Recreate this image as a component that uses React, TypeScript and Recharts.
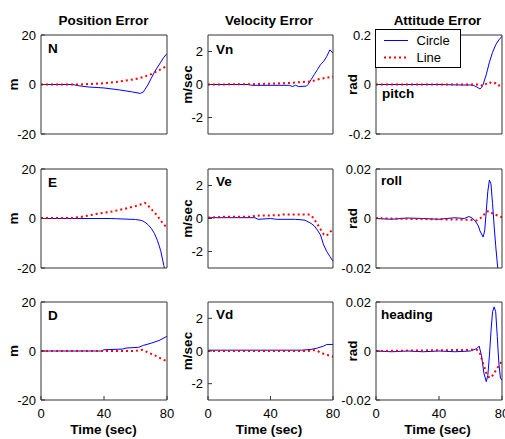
import React from 'react';
import { LineChart, Line, XAxis, YAxis } from 'recharts';

type P = [number, number];

// ---- tick labels / text ----
const timeTicks = [0, 40, 80];
const posTicks = [-20, 0, 20];
const velTicks = [-2, 0, 2];
const pitchTicks = [-0.2, 0, 0.2];
const angTicks = [-0.02, 0, 0.02];
const colTitles = ['Position Error', 'Velocity Error', 'Attitude Error'];
const unitLabels = ['m', 'm/sec', 'rad'];
const panelNames = [
  ['N', 'Vn', 'pitch'],
  ['E', 'Ve', 'roll'],
  ['D', 'Vd', 'heading'],
];
const seriesNames = ['Circle', 'Line'];
const xLabel = 'Time (sec)';

// ---- series values [time, value] ----
const nCircle: P[] = [[0, 0], [20, 0], [24, -0.5], [30, -1], [40, -1.4], [50, -2.2], [58, -3], [63, -3.6], [65, -3], [66, -2], [68, 0], [70, 2.5], [72, 5], [74, 7], [76, 9], [78, 11], [80, 12.5]];
const nLine: P[] = [[0, 0], [25, 0], [30, 0.2], [40, 0.5], [50, 1.2], [60, 2.2], [65, 3], [70, 4.2], [75, 5.8], [80, 7.5]];
const vnCircle: P[] = [[0, 0], [26, 0], [28, -0.05], [52, -0.05], [54, -0.12], [56, -0.05], [58, -0.12], [63, -0.1], [64, 0], [66, 0.3], [68, 0.6], [70, 0.9], [72, 1.2], [74, 1.4], [76, 1.7], [78, 2.1], [80, 1.9]];
const vnLine: P[] = [[0, 0], [30, 0.02], [40, 0.05], [50, 0.08], [60, 0.15], [66, 0.18], [70, 0.3], [74, 0.38], [78, 0.45], [80, 0.48]];
const pitchCircle: P[] = [[0, 0], [40, 0], [55, -0.002], [60, -0.002], [62, -0.004], [64, -0.01], [66, -0.018], [67, -0.012], [68, 0], [70, 0.04], [72, 0.09], [74, 0.13], [76, 0.16], [78, 0.18], [80, 0.195]];
const pitchLine: P[] = [[0, 0], [66, 0], [68, -0.006], [70, 0.003], [72, 0.01], [74, 0.003], [76, 0.006], [78, -0.004], [80, -0.002]];

const eCircle: P[] = [[0, 0], [44, 0], [48, -0.1], [60, -0.4], [64, -0.8], [66, -1.5], [68, -2.5], [70, -4], [72, -6], [74, -9], [76, -13], [78, -19], [80, -26]];
const eLine: P[] = [[0, 0.2], [20, 0.2], [25, 0.6], [30, 1.2], [35, 1.8], [40, 2.3], [45, 2.8], [50, 3.5], [55, 4.2], [60, 5], [64, 5.8], [66, 6.3], [68, 5.2], [70, 3.8], [72, 2.5], [74, 1], [76, -0.8], [78, -2.5], [80, -3.5]];
const veCircle: P[] = [[0, 0.05], [30, 0.05], [32, -0.05], [40, 0], [44, -0.05], [56, -0.05], [62, -0.1], [64, -0.2], [66, -0.3], [68, -0.45], [70, -0.7], [72, -1.0], [74, -1.6], [76, -2.0], [78, -2.3], [80, -2.6]];
const veLine: P[] = [[0, 0.05], [10, 0.1], [28, 0.1], [30, 0.17], [46, 0.2], [48, 0.25], [64, 0.25], [66, 0.2], [68, -0.05], [70, -0.35], [72, -0.65], [74, -0.95], [76, -1.05], [78, -0.8], [80, -0.7]];
const rollCircle: P[] = [[0, 0], [10, -0.0003], [20, 0.0002], [30, 0], [40, -0.0003], [50, 0.0003], [56, 0], [59, 0.0008], [61, 0.0002], [63, -0.001], [65, -0.003], [66, -0.005], [68, -0.0075], [69, -0.005], [70, 0.003], [71, 0.011], [72, 0.0155], [73, 0.014], [74, 0.006], [75, -0.003], [76, -0.011], [77, -0.018], [78, -0.024], [80, -0.032]];
const rollLine: P[] = [[0, 0], [2, 0.0005], [4, 0], [60, -0.0005], [64, -0.0008], [66, 0], [68, 0.001], [70, 0.0028], [72, 0.003], [74, 0.002], [76, 0.0015], [78, 0.001], [80, 0.0005]];

const dCircle: P[] = [[0, 0], [38, 0], [40, 0.5], [52, 0.8], [54, 1.2], [62, 1.5], [65, 2.3], [70, 3.2], [75, 4.3], [80, 6]];
const dLine: P[] = [[0, 0], [60, 0], [62, 0.3], [64, 0.5], [66, 0], [68, -0.6], [70, -1.2], [72, -1.7], [74, -2.3], [76, -3], [78, -3.6], [80, -4.2]];
const vdCircle: P[] = [[0, 0.05], [60, 0.05], [66, 0.1], [70, 0.18], [74, 0.3], [76, 0.4], [80, 0.4]];
const vdLine: P[] = [[0, 0], [64, 0], [68, 0.05], [70, 0], [72, -0.1], [74, -0.17], [77, -0.26], [80, -0.35]];
const headingCircle: P[] = [[0, 0], [10, -0.0003], [20, 0], [30, -0.0003], [40, 0], [50, -0.0003], [60, 0], [64, 0.001], [65.5, 0.002], [67, -0.002], [68.5, -0.009], [70, -0.0125], [71, -0.01], [72, -0.002], [73, 0.008], [74, 0.016], [75, 0.018], [76, 0.016], [77, 0.006], [78, -0.005], [79, -0.011], [80, -0.012]];
const headingLine: P[] = [[0, 0], [64, 0.0005], [66, -0.001], [68, -0.005], [70, -0.009], [72, -0.011], [74, -0.01], [76, -0.008], [78, -0.006], [80, -0.004]];

// ---- layout ----
const FONT = '"Liberation Sans", Arial, Helvetica, sans-serif';
const AX = '#333';
const BLUE = '#0000ff';
const RED = '#ff0000';
const COLS = [{ L: 41, W: 126 }, { L: 208, W: 125 }, { L: 376, W: 126 }];
const ROWS = [{ T: 35, H: 99 }, { T: 169, H: 99 }, { T: 302, H: 98 }];
const colCenters = [103.5, 269, 437.5];
const unitX = [13.5, 187.5, 352];
const nameOffsets = [
  [{ dx: 7, dy: 18 }, { dx: 8, dy: 19 }, { dx: 6, dy: 63 }],
  [{ dx: 7, dy: 17.5 }, { dx: 8, dy: 16.5 }, { dx: 5, dy: 15.5 }],
  [{ dx: 7, dy: 18 }, { dx: 8, dy: 16.5 }, { dx: 5, dy: 17 }],
];

const toRows = (a: P[]) => a.map(([t, v]) => ({ t, v }));

const grid = [
  [
    { circle: nCircle, line: nLine, domain: [-20, 20], ticks: posTicks },
    { circle: vnCircle, line: vnLine, domain: [-3, 3], ticks: velTicks },
    { circle: pitchCircle, line: pitchLine, domain: [-0.2, 0.2], ticks: pitchTicks },
  ],
  [
    { circle: eCircle, line: eLine, domain: [-20, 20], ticks: posTicks },
    { circle: veCircle, line: veLine, domain: [-3, 3], ticks: velTicks },
    { circle: rollCircle, line: rollLine, domain: [-0.02, 0.02], ticks: angTicks },
  ],
  [
    { circle: dCircle, line: dLine, domain: [-20, 20], ticks: posTicks },
    { circle: vdCircle, line: vdLine, domain: [-3, 3], ticks: velTicks },
    { circle: headingCircle, line: headingLine, domain: [-0.02, 0.02], ticks: angTicks },
  ],
];

const tickStyle = { fontSize: 13, fill: '#000', fontFamily: FONT };

function Panel({ L, T, W, H, bottom, circle, line, domain, ticks }: any) {
  const bottomH = bottom ? 40 : 8;
  return (
    <div style={{ position: 'absolute', left: L - 45, top: T - 12 }}>
      <LineChart width={45 + W + 12} height={12 + H + bottomH} margin={{ top: 11, right: 11, bottom: 0, left: 0 }}>
        <XAxis xAxisId="b" dataKey="t" type="number" domain={[0, 80]} ticks={timeTicks} interval={0}
          height={bottomH} tickSize={-4} tickMargin={13} tick={bottom ? tickStyle : false} stroke={AX} allowDataOverflow />
        <XAxis xAxisId="t" dataKey="t" orientation="top" type="number" domain={[0, 80]} ticks={timeTicks} interval={0}
          height={1} tickSize={-4} tick={false} stroke={AX} allowDataOverflow />
        <YAxis yAxisId="l" type="number" domain={domain} ticks={ticks} interval={0} width={45}
          tickSize={-4} tickMargin={9} tick={tickStyle} stroke={AX} allowDataOverflow />
        <YAxis yAxisId="r" orientation="right" type="number" domain={domain} ticks={ticks} interval={0} width={1}
          tickSize={-4} tick={false} stroke={AX} allowDataOverflow />
        <Line xAxisId="b" yAxisId="l" data={toRows(circle)} dataKey="v" type="linear" stroke={BLUE} strokeWidth={1}
          dot={false} isAnimationActive={false} />
        <Line xAxisId="b" yAxisId="l" data={toRows(line)} dataKey="v" type="linear" stroke={RED} strokeWidth={2}
          strokeDasharray="2 3" dot={false} isAnimationActive={false} />
      </LineChart>
    </div>
  );
}

export default function App() {
  const bold = { fontFamily: FONT, fontWeight: 700, fontSize: 13.5, fill: '#000' } as const;
  return (
    <div style={{ position: 'absolute', left: 0, top: 0, width: 505, height: 439, background: '#fff', overflow: 'hidden' }}>
      {grid.map((row, r) =>
        row.map((cell, c) => (
          <Panel key={`${r}-${c}`} L={COLS[c].L} W={COLS[c].W} T={ROWS[r].T} H={ROWS[r].H} bottom={r === 2} {...cell} />
        ))
      )}
      <svg width={505} height={439} style={{ position: 'absolute', left: 0, top: 0, pointerEvents: 'none' }}>
        {colTitles.map((t, c) => (
          <text key={t} x={colCenters[c]} y={25} textAnchor="middle" style={bold}>{t}</text>
        ))}
        {colCenters.map((cx, c) => (
          <text key={`x${c}`} x={cx} y={434} textAnchor="middle" style={bold}>{xLabel}</text>
        ))}
        {ROWS.map((rw, r) =>
          unitLabels.map((u, c) => {
            const cy = rw.T + rw.H / 2;
            return (
              <text key={`u${r}${c}`} x={unitX[c]} y={cy} textAnchor="middle" dominantBaseline="central"
                transform={`rotate(-90 ${unitX[c]} ${cy})`} style={bold}>{u}</text>
            );
          })
        )}
        {panelNames.map((row, r) =>
          row.map((n, c) => (
            <text key={n} x={COLS[c].L + nameOffsets[r][c].dx} y={ROWS[r].T + nameOffsets[r][c].dy} style={bold}>{n}</text>
          ))
        )}
        <g>
          <rect x={375.5} y={29.5} width={85} height={38} fill="#fff" stroke="#000" strokeWidth={1} />
          <line x1={384} x2={408} y1={40.5} y2={40.5} stroke={BLUE} strokeWidth={1} />
          <text x={416.5} y={45} style={{ fontFamily: FONT, fontSize: 13, fill: '#000' }}>{seriesNames[0]}</text>
          <line x1={384} x2={408} y1={57.5} y2={57.5} stroke={RED} strokeWidth={2} strokeDasharray="2 3" />
          <text x={416.5} y={62} style={{ fontFamily: FONT, fontSize: 13, fill: '#000' }}>{seriesNames[1]}</text>
        </g>
      </svg>
    </div>
  );
}
